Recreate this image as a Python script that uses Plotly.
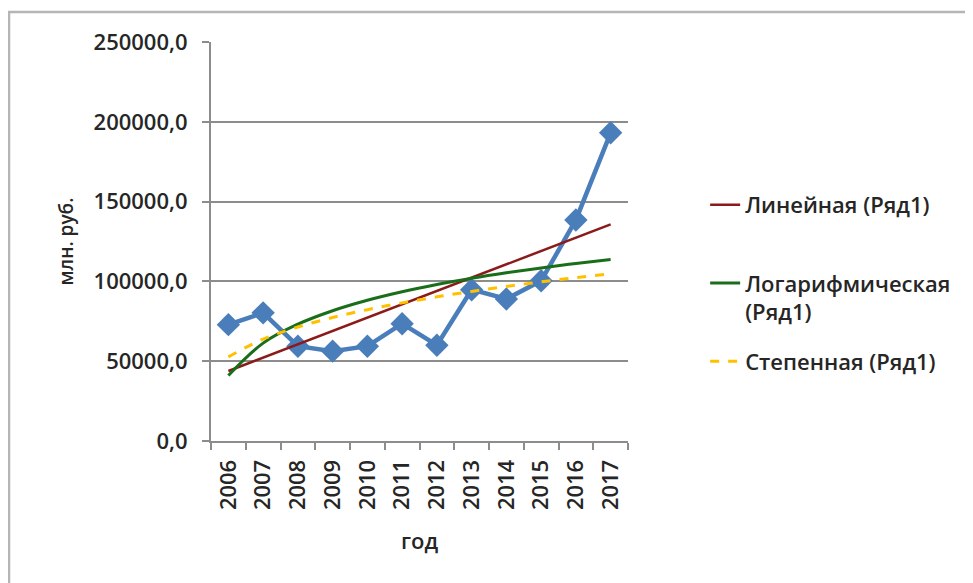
import numpy as np
import plotly.graph_objects as go

# ---- data ----
years = ["2006", "2007", "2008", "2009", "2010", "2011",
         "2012", "2013", "2014", "2015", "2016", "2017"]
values = [72900, 80300, 59400, 56300, 59400, 73500,
          60000, 94800, 89000, 100400, 138500, 193100]
y_tick_vals = [0, 50000, 100000, 150000, 200000, 250000]
y_tick_text = ["0,0", "50000,0", "100000,0", "150000,0", "200000,0", "250000,0"]

series_name = "Ряд1"
trend_names = ["Линейная (Ряд1)<br> ", "Логарифмическая<br>(Ряд1)", "Степенная (Ряд1)<br> "]

# ---- trend lines fitted to the data (Excel-style) ----
t = np.arange(1, len(values) + 1, dtype=float)
v = np.array(values, dtype=float)
lin_b, lin_a = np.polyfit(t, v, 1)
lin = lin_a + lin_b * t
log_b, log_a = np.polyfit(np.log(t), v, 1)
logt = log_a + log_b * np.log(t)
pw_b, pw_lna = np.polyfit(np.log(t), np.log(v), 1)
pw = np.exp(pw_lna) * t ** pw_b

FONT = "Open Sans"
TXT = "#262626"
GRID = "#8c8c8c"
FS = 22
W = 600

fig = go.Figure()
fig.add_trace(go.Scatter(
    x=years, y=values, name=series_name, mode="lines+markers",
    line=dict(color="#4a7ebb", width=4.5),
    marker=dict(symbol="diamond", size=18, color="#4a7ebb"),
    showlegend=False))
fig.add_trace(go.Scatter(
    x=years, y=lin, name=trend_names[0], mode="lines",
    line=dict(color="#8b1a1a", width=2.5), legendgroup="a"))
fig.add_trace(go.Scatter(
    x=years, y=logt, name=trend_names[1], mode="lines", line_shape="spline",
    line=dict(color="#1a6e1a", width=3), legendgroup="b"))
fig.add_trace(go.Scatter(
    x=years, y=pw, name=trend_names[2], mode="lines", line_shape="spline",
    line=dict(color="#ffc000", width=3, dash="dash"), legendgroup="c"))

fig.update_layout(
    width=973, height=583,
    margin=dict(l=203, r=353, t=34, b=150, autoexpand=False),
    paper_bgcolor="white", plot_bgcolor="white",
    font=dict(family=FONT, size=FS, color=TXT, weight=W),
    legend=dict(x=1.185, y=0.644, xanchor="left", yanchor="top",
                valign="top", tracegroupgap=18,
                font=dict(family=FONT, size=FS, color=TXT, weight=W),
                bgcolor="rgba(0,0,0,0)"),
    shapes=[dict(type="rect", xref="paper", yref="paper",
                 x0=-0.4844, x1=1.95, y0=-0.6, y1=1.0752,
                 line=dict(color="#b5b5b5", width=2.5), layer="below")],
)
fig.update_xaxes(
    type="category", range=[-0.5, 11.5], tickson="boundaries",
    ticks="outside", ticklen=7, tickcolor=GRID, tickwidth=1.5,
    showline=True, linecolor=GRID, linewidth=2, showgrid=False,
    tickangle=-90, ticklabelstandoff=8,
    tickfont=dict(size=FS, color=TXT, weight=W),
    title=dict(text="год", font=dict(size=FS, color=TXT, weight=W), standoff=24),
    automargin=False)
fig.update_yaxes(
    range=[0, 250000], tickvals=y_tick_vals, ticktext=y_tick_text,
    ticks="outside", ticklen=7, tickcolor=GRID, tickwidth=1.5,
    showline=True, linecolor=GRID, linewidth=2,
    showgrid=True, gridcolor=GRID, gridwidth=2, zeroline=False,
    ticklabelstandoff=10, tickfont=dict(size=FS, color=TXT, weight=W),
    title=dict(text="млн. руб.", font=dict(size=19, color=TXT, weight=W), standoff=15),
    automargin=False)

fig.write_html("out.html")
